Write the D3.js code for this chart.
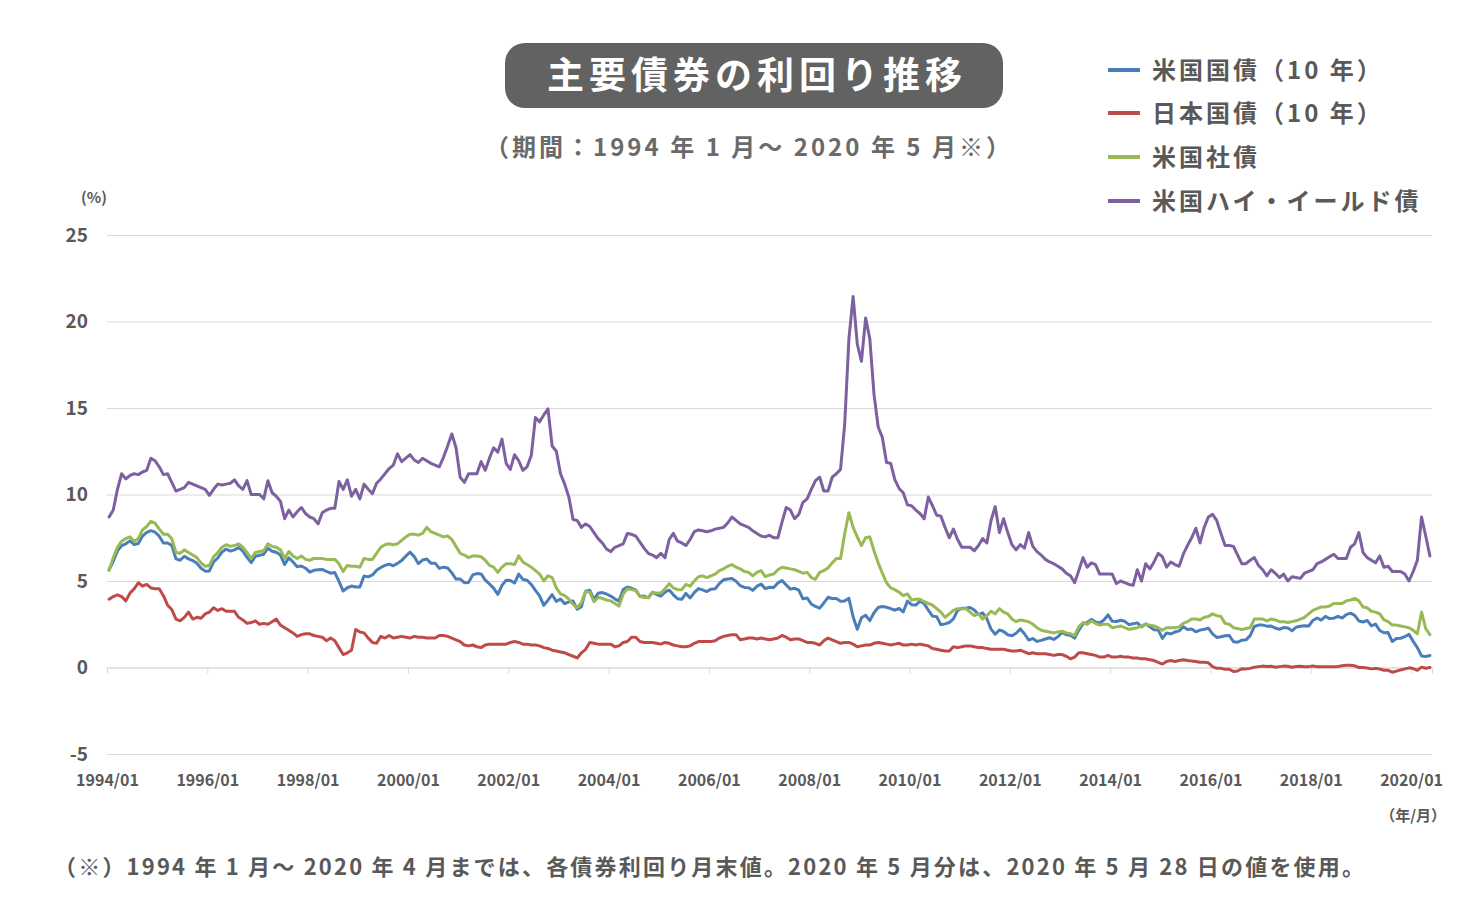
<!DOCTYPE html>
<html><head><meta charset="utf-8">
<script src="https://cdn.jsdelivr.net/npm/d3@7/dist/d3.min.js"></script>
<style>
html,body{margin:0;padding:0;background:#fff;}
svg{display:block;font-family:"Noto Sans CJK JP","Noto Sans",sans-serif;font-weight:700;}
</style></head><body>
<svg id="chart" width="1480" height="910"></svg>
<script>
// ---- data (monthly, 1994/01 - 2020/05) ----
const startYear = 1994;
const monthCount = 317;
const tickLabels = ["1994/01","1996/01","1998/01","2000/01","2002/01","2004/01","2006/01","2008/01","2010/01","2012/01","2014/01","2016/01","2018/01","2020/01"];
const yTickValues = [-5, 0, 5, 10, 15, 20, 25];
const seriesNames = ["米国国債（10 年）", "日本国債（10 年）", "米国社債", "米国ハイ・イールド債"];

const usTreasury = [
5.65,6.14,6.74,7.04,7.15,7.32,7.11,7.17,7.60,7.81,7.91,7.82,
7.59,7.20,7.20,7.06,6.28,6.20,6.43,6.28,6.18,6.02,5.74,5.57,
5.58,6.10,6.33,6.67,6.85,6.73,6.80,6.94,6.72,6.37,6.06,6.43,
6.49,6.55,6.90,6.72,6.66,6.50,5.95,6.34,6.10,5.83,5.87,5.74,
5.51,5.62,5.65,5.67,5.55,5.45,5.49,4.98,4.42,4.61,4.71,4.65,
4.65,5.29,5.24,5.35,5.62,5.78,5.90,5.97,5.88,6.02,6.19,6.44,
6.67,6.41,6.00,6.21,6.27,6.03,6.03,5.73,5.80,5.75,5.47,5.11,
5.11,4.90,4.92,5.35,5.43,5.41,5.05,4.83,4.59,4.23,4.75,5.05,
5.03,4.88,5.40,5.09,5.04,4.80,4.46,4.14,3.59,3.89,4.21,3.82,
3.96,3.69,3.80,3.84,3.37,3.52,4.41,4.46,3.94,4.29,4.33,4.25,
4.13,3.97,3.84,4.51,4.65,4.58,4.48,4.12,4.12,4.03,4.35,4.22,
4.13,4.36,4.48,4.20,3.98,3.94,4.28,4.02,4.33,4.56,4.49,4.39,
4.53,4.55,4.85,5.07,5.12,5.14,4.99,4.73,4.63,4.61,4.46,4.70,
4.82,4.56,4.64,4.63,4.89,5.03,4.77,4.53,4.58,4.47,3.97,4.02,
3.67,3.53,3.43,3.73,4.06,3.99,3.99,3.83,3.85,4.00,2.93,2.21,
2.87,3.02,2.71,3.16,3.47,3.53,3.48,3.40,3.31,3.41,3.21,3.84,
3.63,3.61,3.84,3.69,3.31,2.97,2.94,2.47,2.52,2.60,2.81,3.30,
3.42,3.42,3.47,3.32,3.06,3.16,2.82,2.22,1.92,2.17,2.08,1.89,
1.83,1.98,2.23,1.95,1.59,1.67,1.51,1.57,1.65,1.72,1.62,1.78,
2.02,1.89,1.87,1.70,2.16,2.52,2.60,2.78,2.64,2.57,2.75,3.04,
2.67,2.66,2.73,2.67,2.48,2.53,2.58,2.35,2.52,2.35,2.18,2.17,
1.68,2.00,1.94,2.05,2.12,2.35,2.20,2.22,2.06,2.16,2.21,2.27,
1.94,1.74,1.78,1.83,1.85,1.49,1.46,1.58,1.60,1.84,2.37,2.45,
2.45,2.39,2.40,2.28,2.21,2.31,2.29,2.12,2.33,2.38,2.41,2.40,
2.72,2.86,2.74,2.95,2.83,2.85,2.96,2.86,3.06,3.14,3.01,2.69,
2.63,2.72,2.41,2.51,2.14,2.01,2.02,1.50,1.68,1.69,1.78,1.92,
1.51,1.15,0.67,0.64,0.69
];

const jgb = [
3.95,4.1,4.2,4.1,3.85,4.3,4.55,4.9,4.7,4.8,4.6,4.55,
4.55,4.15,3.6,3.35,2.8,2.7,2.9,3.2,2.8,2.9,2.85,3.1,
3.2,3.45,3.3,3.4,3.25,3.25,3.25,2.9,2.75,2.55,2.6,2.7,
2.5,2.55,2.5,2.65,2.8,2.45,2.3,2.15,2.0,1.8,1.9,1.95,
1.95,1.85,1.8,1.75,1.55,1.7,1.55,1.15,0.75,0.85,1.0,2.2,
2.05,2.0,1.7,1.45,1.4,1.8,1.7,1.85,1.7,1.75,1.8,1.75,
1.7,1.8,1.75,1.75,1.7,1.7,1.7,1.85,1.85,1.8,1.7,1.6,
1.5,1.3,1.25,1.3,1.2,1.15,1.3,1.35,1.35,1.35,1.35,1.35,
1.45,1.5,1.45,1.35,1.35,1.3,1.3,1.25,1.15,1.1,1.0,0.95,
0.9,0.85,0.75,0.65,0.55,0.85,1.05,1.45,1.4,1.35,1.35,1.35,
1.35,1.2,1.25,1.45,1.5,1.75,1.75,1.5,1.45,1.45,1.45,1.4,
1.35,1.45,1.4,1.3,1.25,1.2,1.2,1.25,1.4,1.5,1.5,1.5,
1.5,1.55,1.7,1.8,1.85,1.9,1.9,1.6,1.65,1.7,1.7,1.65,
1.7,1.65,1.6,1.65,1.7,1.85,1.75,1.6,1.65,1.65,1.55,1.45,
1.45,1.4,1.3,1.55,1.7,1.6,1.5,1.4,1.45,1.45,1.35,1.2,
1.25,1.3,1.3,1.4,1.45,1.4,1.35,1.3,1.35,1.4,1.3,1.3,
1.35,1.3,1.35,1.3,1.25,1.1,1.05,1.0,0.95,0.95,1.2,1.15,
1.2,1.25,1.25,1.2,1.15,1.15,1.1,1.05,1.05,1.05,1.05,1.0,
0.95,0.95,1.0,0.9,0.8,0.85,0.8,0.8,0.8,0.75,0.7,0.75,
0.75,0.65,0.5,0.6,0.85,0.85,0.8,0.75,0.7,0.6,0.6,0.7,
0.6,0.6,0.65,0.6,0.6,0.55,0.55,0.5,0.5,0.45,0.4,0.3,
0.2,0.35,0.4,0.35,0.4,0.45,0.4,0.38,0.35,0.3,0.3,0.27,
0.05,-0.05,-0.05,-0.1,-0.1,-0.23,-0.2,-0.07,-0.08,-0.05,0.02,0.05,
0.08,0.06,0.07,0.02,0.05,0.08,0.07,0.01,0.06,0.07,0.04,0.05,
0.09,0.05,0.05,0.05,0.04,0.04,0.06,0.1,0.13,0.13,0.1,0.0,
0.0,-0.03,-0.08,-0.05,-0.09,-0.16,-0.16,-0.27,-0.21,-0.14,-0.08,-0.02,
-0.06,-0.16,0.02,-0.04,0.0
];

const usCorp = [
5.6,6.35,6.95,7.3,7.45,7.55,7.3,7.45,7.95,8.15,8.45,8.35,
8.0,7.7,7.7,7.45,6.65,6.6,6.8,6.65,6.5,6.35,6.05,5.85,
5.9,6.4,6.65,6.95,7.1,7.0,7.05,7.15,6.95,6.65,6.3,6.65,
6.7,6.75,7.15,7.0,6.95,6.8,6.3,6.7,6.45,6.3,6.45,6.25,
6.2,6.3,6.3,6.3,6.25,6.25,6.25,6.0,5.55,5.9,5.85,5.85,
5.8,6.3,6.25,6.25,6.6,6.95,7.1,7.15,7.1,7.15,7.35,7.55,
7.7,7.7,7.65,7.75,8.1,7.85,7.75,7.65,7.55,7.6,7.4,7.0,
6.6,6.5,6.35,6.45,6.45,6.4,6.2,5.9,5.8,5.5,5.8,6.0,
6.0,5.95,6.45,6.1,5.95,5.8,5.6,5.4,5.0,5.3,5.2,4.6,
4.25,4.15,3.95,3.65,3.45,3.75,4.4,4.35,3.8,4.05,4.0,3.9,
3.85,3.7,3.55,4.25,4.55,4.5,4.45,4.1,4.05,4.05,4.35,4.3,
4.3,4.55,4.85,4.6,4.5,4.5,4.8,4.7,5.0,5.25,5.3,5.2,
5.3,5.4,5.6,5.7,5.85,5.95,5.8,5.7,5.55,5.5,5.3,5.5,
5.6,5.25,5.35,5.4,5.65,5.8,5.75,5.7,5.65,5.55,5.45,5.5,
5.2,5.1,5.5,5.6,5.75,6.05,6.3,6.3,7.75,8.95,8.1,7.55,
7.05,7.5,7.55,6.75,6.05,5.45,4.9,4.6,4.5,4.35,4.15,4.25,
3.9,3.95,3.95,3.8,3.7,3.6,3.4,3.2,2.9,3.1,3.3,3.4,
3.4,3.4,3.2,3.0,3.1,2.8,3.0,3.25,3.1,3.4,3.2,3.1,
2.8,2.65,2.75,2.7,2.65,2.5,2.3,2.15,2.1,2.05,2.0,2.05,
2.1,2.0,1.95,1.85,2.35,2.6,2.5,2.7,2.55,2.45,2.5,2.5,
2.3,2.35,2.4,2.3,2.2,2.25,2.3,2.4,2.5,2.45,2.4,2.3,
2.15,2.3,2.3,2.3,2.35,2.55,2.65,2.8,2.8,2.75,2.9,2.95,
3.1,3.0,2.95,2.55,2.5,2.3,2.25,2.2,2.25,2.3,2.8,2.8,
2.8,2.7,2.8,2.75,2.65,2.65,2.6,2.65,2.7,2.8,2.9,3.1,
3.3,3.4,3.5,3.5,3.55,3.7,3.7,3.7,3.85,3.9,4.0,3.85,
3.5,3.45,3.25,3.2,3.1,2.75,2.65,2.45,2.45,2.4,2.35,2.3,
2.15,1.95,3.2,2.25,1.9
];

const usHighYield = [
8.7,9.1,10.3,11.2,10.9,11.1,11.2,11.15,11.3,11.4,12.1,11.95,
11.6,11.15,11.2,10.7,10.2,10.3,10.4,10.7,10.6,10.5,10.4,10.3,
9.95,10.3,10.6,10.55,10.6,10.65,10.85,10.5,10.3,10.8,10.0,10.0,
10.0,9.75,10.8,10.1,9.9,9.6,8.6,9.1,8.7,9.0,9.25,8.9,
8.7,8.6,8.3,8.95,9.1,9.2,9.2,10.75,10.3,10.85,9.9,10.3,
9.75,10.6,10.3,10.05,10.65,10.9,11.2,11.5,11.7,12.35,11.9,12.1,
12.3,12.0,11.85,12.1,11.95,11.8,11.7,11.6,12.15,12.8,13.5,12.7,
11.0,10.7,11.2,11.2,11.2,11.9,11.4,12.1,12.7,12.45,13.2,11.8,
11.45,12.3,11.95,11.4,11.6,12.25,14.45,14.2,14.6,14.95,12.8,12.5,
11.2,10.6,9.85,8.55,8.5,8.1,8.3,8.15,7.8,7.45,7.2,6.85,
6.7,6.95,7.05,7.15,7.75,7.7,7.6,7.25,6.9,6.6,6.5,6.35,
6.6,6.35,7.4,7.75,7.3,7.2,7.05,7.4,7.85,7.95,7.9,7.85,
7.9,8.0,8.05,8.1,8.35,8.7,8.5,8.3,8.2,8.1,7.9,7.75,
7.6,7.55,7.65,7.5,7.5,8.4,9.25,9.1,8.6,8.85,9.55,9.75,
10.3,10.8,11.0,10.2,10.2,11.0,11.2,11.45,14.1,19.0,21.45,18.7,
17.7,20.2,19.0,15.8,13.9,13.3,11.85,11.8,10.85,10.35,10.1,9.4,
9.35,9.1,8.9,8.6,9.85,9.35,8.8,8.75,8.1,7.5,8.0,7.4,
6.95,6.95,6.95,6.75,7.05,7.45,7.2,8.5,9.3,7.8,8.6,7.8,
7.1,6.8,7.1,6.9,7.8,7.0,6.7,6.5,6.25,6.1,6.0,5.85,
5.7,5.45,5.3,4.9,5.6,6.35,5.8,6.05,5.95,5.4,5.4,5.4,
5.4,4.85,5.0,4.9,4.8,4.75,5.65,5.0,6.0,5.7,6.1,6.6,
6.4,5.8,6.1,5.95,5.85,6.55,7.05,7.5,8.05,7.2,8.1,8.7,
8.85,8.5,7.75,7.05,7.05,7.0,6.5,6.0,6.0,6.2,6.35,5.9,
5.65,5.3,5.65,5.45,5.2,5.4,5.0,5.25,5.2,5.15,5.45,5.55,
5.65,6.0,6.1,6.25,6.4,6.55,6.3,6.3,6.3,6.95,7.15,7.8,
6.65,6.35,6.2,6.05,6.45,5.8,5.85,5.55,5.55,5.55,5.4,5.0,
5.55,6.2,8.7,7.6,6.45
];

const seriesColors = ["#4A7EBB", "#BE4B48", "#98B954", "#7D60A0"];
const allSeries = [usTreasury, jgb, usCorp, usHighYield];

// ---- layout ----
const svg = d3.select("#chart");
const plotLeft = 107, plotRight = 1432, plotTop = 235, plotBottom = 754;
const x = d3.scaleLinear().domain([0, monthCount]).range([plotLeft, plotRight]);
const y = d3.scaleLinear().domain([-5, 25]).range([plotBottom, plotTop]);
const textColor = "#595959";

// gridlines + y labels
const yAxis = d3.axisLeft(y).tickValues(yTickValues).tickSize(-(plotRight - plotLeft)).tickPadding(19).tickFormat(d => String(d));
const gy = svg.append("g").attr("transform", `translate(${plotLeft},0)`).call(yAxis);
gy.select(".domain").remove();
gy.selectAll(".tick line").attr("stroke", "#d9d9d9").attr("stroke-width", 1);
gy.selectAll(".tick text").attr("fill", textColor).style("font-size", "19px").style("font-weight", 700)
  .style("font-family", '"Noto Sans CJK JP",sans-serif');

// x axis at 0
const tickIdx = tickLabels.map((_, i) => i * 24);
const xAxis = d3.axisBottom(x).tickValues(tickIdx).tickSize(6).tickFormat((d, i) => tickLabels[i]);
const gx = svg.append("g").attr("transform", `translate(0,${y(0)})`).call(xAxis);
gx.select(".domain").attr("stroke", "#d9d9d9");
gx.selectAll(".tick line").attr("stroke", "#d9d9d9");
gx.selectAll(".tick text").attr("y", 118).attr("dy", 0).attr("fill", textColor)
  .style("font-size", "16px").style("font-weight", 700).style("font-family", '"Noto Sans CJK JP",sans-serif');

// lines
const line = d3.line().x((d, i) => x(i + 0.5)).y(d => y(d));
allSeries.forEach((s, k) => {
  svg.append("path").datum(s).attr("d", line).attr("fill", "none")
    .attr("stroke", seriesColors[k]).attr("stroke-width", 3)
    .attr("stroke-linejoin", "round").attr("stroke-linecap", "round");
});

// unit labels
svg.append("text").attr("x", 94).attr("y", 203).attr("text-anchor", "middle")
  .attr("fill", textColor).style("font-size", "15px").text("(%)");
svg.append("text").attr("x", 1446).attr("y", 821).attr("text-anchor", "end")
  .attr("fill", textColor).style("font-size", "15px").text("（年/月）");

// title
svg.append("rect").attr("x", 505).attr("y", 43).attr("width", 498).attr("height", 65)
  .attr("rx", 20).attr("fill", "#626262");
svg.append("text").attr("x", 547).attr("y", 76).attr("dy", "0.35em")
  .attr("textLength", 415).attr("lengthAdjust", "spacing")
  .attr("fill", "#fff").style("font-size", "37px").text("主要債券の利回り推移");
svg.append("text").attr("x", 485).attr("y", 148).attr("dy", "0.35em")
  .attr("textLength", 525).attr("lengthAdjust", "spacing")
  .attr("fill", "#6a6a6a").style("font-size", "24px").text("（期間：1994 年 1 月～ 2020 年 5 月※）");

// legend
const legendY = [70, 113, 157, 201];
seriesNames.forEach((name, k) => {
  svg.append("line").attr("x1", 1108).attr("x2", 1140).attr("y1", legendY[k]).attr("y2", legendY[k])
    .attr("stroke", seriesColors[k]).attr("stroke-width", 4);
  svg.append("text").attr("x", 1152).attr("y", legendY[k]).attr("dy", "0.36em")
    .attr("fill", textColor).style("font-size", "24px").style("letter-spacing", "3px").text(name);
});

// footnote
svg.append("text").attr("x", 54).attr("y", 867).attr("dy", "0.35em")
  .attr("textLength", 1310).attr("lengthAdjust", "spacing")
  .attr("fill", textColor).style("font-size", "22px")
  .text("（※）1994 年 1 月～ 2020 年 4 月までは、各債券利回り月末値。2020 年 5 月分は、2020 年 5 月 28 日の値を使用。");
</script>
</body></html>
